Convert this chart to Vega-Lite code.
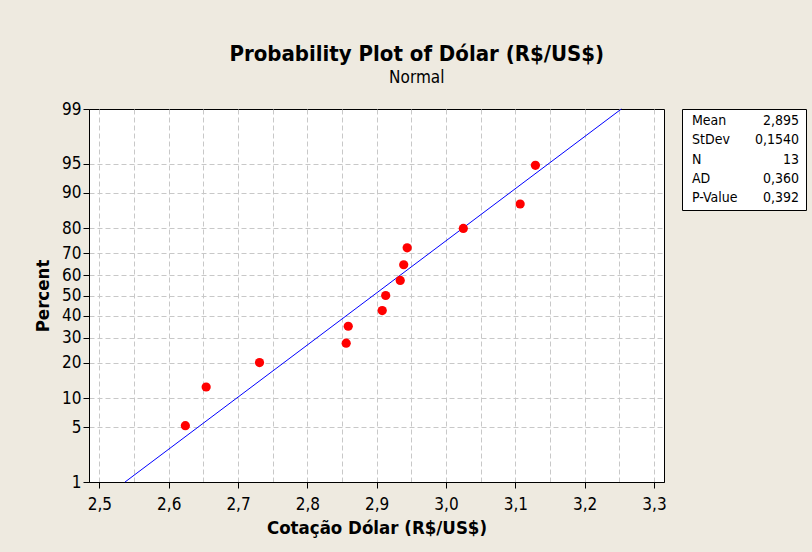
{
  "$schema": "https://vega.github.io/schema/vega-lite/v6.json",
  "background": "#eeeae0",
  "padding": {"left": 33, "top": 42, "right": 10, "bottom": 20},
  "config": {
    "font": "DejaVu Sans Condensed",
    "concat": {"spacing": 14},
    "view": {"stroke": "black"}
  },
  "title": {
    "text": "Probability Plot of Dólar (R$/US$)",
    "subtitle": "Normal",
    "fontSize": 22,
    "fontWeight": "bold",
    "subtitleFontSize": 17,
    "subtitlePadding": 4,
    "offset": 13,
    "dx": -3,
    "color": "black",
    "subtitleColor": "black",
    "anchor": "middle",
    "font": "DejaVu Sans Condensed",
    "subtitleFont": "DejaVu Sans Condensed"
  },
  "hconcat": [
    {
      "width": 575,
      "height": 373,
      "view": {"fill": "white", "stroke": "black", "strokeWidth": 1},
      "layer": [
        {
          "data": {
            "values": [
              {"cotacao": 2.537, "percent": 1},
              {"cotacao": 3.253, "percent": 99}
            ]
          },
          "transform": [{"calculate": "quantileNormal(datum.percent / 100)", "as": "z"}],
          "mark": {"type": "line", "color": "#0000ff", "strokeWidth": 1},
          "encoding": {
            "x": {
              "field": "cotacao",
              "type": "quantitative",
              "scale": {"domain": [2.485, 3.3145], "nice": false, "zero": false},
              "axis": {
                "values": [2.5, 2.55, 2.6, 2.65, 2.7, 2.75, 2.8, 2.85, 2.9, 2.95, 3.0, 3.05, 3.1, 3.15, 3.2, 3.25, 3.3],
                "tickCount": 40,
                "labelExpr": "abs(datum.value * 10 - round(datum.value * 10)) > 0.01 ? '' : replace(format(datum.value, '.1f'), '.', ',')",
                "tickOpacity": {"condition": {"test": "abs(datum.value * 10 - round(datum.value * 10)) > 0.01", "value": 0}, "value": 1},
                "grid": true,
                "gridColor": "#c8c8c8",
                "gridDash": [5, 3],
                "gridWidth": 1,
                "domain": true,
                "domainColor": "black",
                "tickColor": "black",
                "tickSize": 6,
                "labelFontSize": 17,
                "labelColor": "black",
                "labelPadding": 8,
                "labelFlush": false,
                "labelOverlap": false,
                "title": "Cotação Dólar (R$/US$)",
                "titleFontSize": 18.5,
                "titleFontWeight": "bold",
                "titleColor": "black",
                "titlePadding": 6
              }
            },
            "y": {
              "field": "z",
              "type": "quantitative",
              "scale": {"domain": [-2.3263, 2.3263], "nice": false, "zero": false},
              "axis": {
                "values": [-2.3263, -1.6449, -1.2816, -0.8416, -0.5244, -0.2533, 0, 0.2533, 0.5244, 0.8416, 1.2816, 1.6449, 2.3263],
                "tickCount": 40,
                "labelExpr": "format(round(cumulativeNormal(datum.value) * 100), 'd')",
                "grid": true,
                "gridColor": "#c8c8c8",
                "gridDash": [5, 3],
                "gridWidth": 1,
                "gridOpacity": {"condition": {"test": "abs(datum.value) > 2.3", "value": 0}, "value": 1},
                "domain": true,
                "domainColor": "black",
                "tickColor": "black",
                "tickSize": 6,
                "labelFontSize": 17,
                "labelColor": "black",
                "labelPadding": 2,
                "labelFlush": false,
                "labelOverlap": false,
                "title": "Percent",
                "titleFontSize": 18.5,
                "titleFontWeight": "bold",
                "titleColor": "black",
                "titlePadding": 9
              }
            }
          }
        },
        {
          "data": {
            "values": [
              {"cotacao": 2.624, "percent": 5.22},
              {"cotacao": 2.654, "percent": 12.69},
              {"cotacao": 2.731, "percent": 20.15},
              {"cotacao": 2.856, "percent": 27.61},
              {"cotacao": 2.859, "percent": 35.07},
              {"cotacao": 2.908, "percent": 42.54},
              {"cotacao": 2.913, "percent": 50.0},
              {"cotacao": 2.934, "percent": 57.46},
              {"cotacao": 2.939, "percent": 64.93},
              {"cotacao": 2.944, "percent": 72.39},
              {"cotacao": 3.025, "percent": 79.85},
              {"cotacao": 3.107, "percent": 87.31},
              {"cotacao": 3.129, "percent": 94.78}
            ]
          },
          "transform": [{"calculate": "quantileNormal(datum.percent / 100)", "as": "z"}],
          "mark": {"type": "circle", "size": 85, "color": "#ff0000", "opacity": 1},
          "encoding": {
            "x": {"field": "cotacao", "type": "quantitative"},
            "y": {"field": "z", "type": "quantitative"}
          }
        }
      ]
    },
    {
      "width": 124,
      "height": 101,
      "view": {"fill": "white", "stroke": "black", "strokeWidth": 1},
      "data": {
        "values": [
          {"stat": "Mean", "value": "2,895"},
          {"stat": "StDev", "value": "0,1540"},
          {"stat": "N", "value": "13"},
          {"stat": "AD", "value": "0,360"},
          {"stat": "P-Value", "value": "0,392"}
        ]
      },
      "layer": [
        {
          "mark": {"type": "text", "align": "left", "baseline": "middle", "fontSize": 14, "color": "black"},
          "encoding": {
            "x": {"datum": "label", "type": "nominal", "scale": {"type": "point", "domain": ["label", "value"], "range": [10, 117], "padding": 0}, "axis": null},
            "y": {"field": "stat", "type": "nominal", "sort": null, "scale": {"type": "point", "padding": 0.625}, "axis": null},
            "text": {"field": "stat"}
          }
        },
        {
          "mark": {"type": "text", "align": "right", "baseline": "middle", "fontSize": 14, "color": "black"},
          "encoding": {
            "x": {"datum": "value", "type": "nominal"},
            "y": {"field": "stat", "type": "nominal", "sort": null},
            "text": {"field": "value"}
          }
        }
      ]
    }
  ]
}
